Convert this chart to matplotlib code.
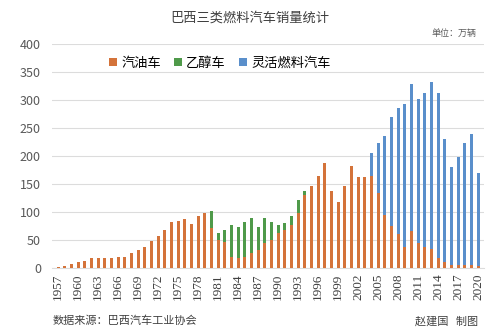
import numpy as np
import matplotlib.pyplot as plt

plt.rcParams['font.family'] = ['Noto Sans CJK SC', 'DejaVu Sans']

years = list(range(1957, 2021))

# 汽油车 (万辆)
gasoline = [2, 4, 7, 11, 13, 17, 17, 17, 17, 20,
            20, 26, 32, 38, 48, 57, 68, 83, 84, 87,
            79, 93, 99, 71, 50, 47, 20, 17, 20, 26,
            32, 44, 50, 62, 68, 77, 98, 130, 146, 165,
            187, 137, 117, 146, 183, 162, 162, 164, 134, 94,
            75, 61, 37, 66, 45, 37, 34, 17, 11, 5,
            5, 5, 5, 4]

# 乙醇车 (1980-1994)
ethanol = [0] * 23 + [30, 13, 20, 57, 56, 63, 63, 42, 45, 33, 15, 13, 15, 23, 8] + [0] * 26

# 灵活燃料汽车 (2004-2020)
flex = [0] * 47 + [42, 90, 141, 194, 225, 255, 262, 257, 276, 299,
                   295, 219, 176, 194, 219, 234, 166]

tick_years = list(range(1957, 2021, 3))

c_gas = '#D4733A'
c_eth = '#4F9A4A'
c_flex = '#5A8FCB'

fig = plt.figure(figsize=(5, 3.36), dpi=100)
ax = fig.add_axes([52 / 500, 68 / 336, 432 / 500, 224 / 336])

x = np.array(years)
gas = np.array(gasoline)
w = 0.45
ax.bar(x, gas, width=w, color=c_gas, label='汽油车', zorder=3)
ax.bar(x, ethanol, width=w, bottom=gas, color=c_eth, label='乙醇车', zorder=3)
ax.bar(x, flex, width=w, bottom=gas, color=c_flex, label='灵活燃料汽车', zorder=3)

ax.set_xlim(1956.1, 2020.9)
ax.set_ylim(0, 400)
ax.set_yticks(range(0, 401, 50))
ax.set_xticks(tick_years)
ax.set_xticklabels([str(y) for y in tick_years], rotation=90,
                   family='Liberation Serif', fontsize=9.5, color='#404040')
ax.tick_params(axis='y', length=0, labelsize=9, labelcolor='#595959', pad=8)
ax.tick_params(axis='x', length=0, pad=4)
ax.grid(axis='y', color='#DCDCDC', lw=0.8, zorder=0)
for s in ['top', 'right', 'left']:
    ax.spines[s].set_visible(False)
ax.spines['bottom'].set_color('#DCDCDC')

ax.legend(loc='center', bbox_to_anchor=(220 / 500, 1 - 63 / 336), bbox_transform=fig.transFigure,
          ncol=3, frameon=False, fontsize=9.5, handlelength=0.6, handleheight=0.6,
          handletextpad=0.3, columnspacing=1.0)

fig.text(0.5, 1 - 18 / 336, '巴西三类燃料汽车销量统计', ha='center', va='center',
         fontsize=9.5, color='#404040')
fig.text(477 / 500, 1 - 33 / 336, '单位：万辆', ha='right', va='center',
         fontsize=6.5, color='#595959')
fig.text(53 / 500, 1 - 321 / 336, '数据来源：巴西汽车工业协会', ha='left', va='center',
         fontsize=8, color='#404040')
fig.text(478 / 500, 1 - 321 / 336, '赵建国   制图', ha='right', va='center',
         fontsize=8, color='#404040')

fig.savefig('out.png', dpi=100, facecolor='white')
